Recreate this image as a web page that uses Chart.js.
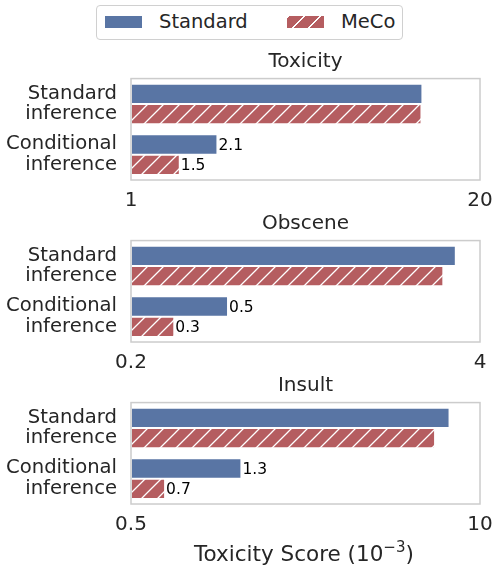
<!DOCTYPE html>
<html>
<head>
<meta charset="utf-8">
<script src="https://cdn.jsdelivr.net/npm/chart.js@4"></script>
<style>
  body { margin: 0; background: #fff; font-family: "DejaVu Sans", sans-serif; color: #262626; }
  #wrap { position: relative; width: 492px; height: 565px; overflow: hidden; }
  .panel { position: absolute; left: 0; }
  #legend { position: absolute; left: 96px; top: 5px; width: 305px; height: 33px; border: 1.5px solid #d0d0d0; border-radius: 4px; box-sizing: content-box; }
  .sw { position: absolute; top: 10px; width: 37px; height: 12px; }
  .lt { position: absolute; top: 3px; font-size: 19.5px; line-height: 26px; }
  #xlabel { position: absolute; top: 541px; left: 0; width: 608px; text-align: center; font-size: 21.5px; line-height: 26px; white-space: nowrap; }
  #xlabel sup { font-size: 15px; vertical-align: 9px; line-height: 0; }
</style>
</head>
<body>
<div id="wrap">
  <div id="legend">
    <div class="sw" style="left:8px;background:#5975a4"></div>
    <div class="lt" style="left:62px">Standard</div>
    <div class="sw" style="left:190px;background:repeating-linear-gradient(-45deg,#b55d60 0 10px,#fff 10px 11.5px)"></div>
    <div class="lt" style="left:244px">MeCo</div>
  </div>
  <canvas id="c0" class="panel" width="492" height="171" style="top:44px"></canvas>
  <canvas id="c1" class="panel" width="492" height="171" style="top:206px"></canvas>
  <canvas id="c2" class="panel" width="492" height="171" style="top:368px"></canvas>
  <div id="xlabel">Toxicity Score (10<sup>−3</sup>)</div>
</div>
<script>
const categories = [['Standard', 'inference'], ['Conditional', 'inference']];
const panelTitles = ['Toxicity', 'Obscene', 'Insult'];
const axisMin = [1, 0.2, 0.5];
const axisMax = [20, 4, 10];
// values per panel: [standard inference, conditional inference]
const standardVals = [[12.2, 2.1], [3.25, 0.46], [7.7, 1.29]];
const mecoVals = [[12.1, 1.52], [2.92, 0.29], [6.8, 0.67]];

const blue = '#5975a4';
const red = '#b55d60';

function hatch(color) {
  const s = 16;
  const c = document.createElement('canvas');
  c.width = s; c.height = s;
  const g = c.getContext('2d');
  g.fillStyle = color;
  g.fillRect(0, 0, s, s);
  g.strokeStyle = '#ffffff';
  g.lineWidth = 1.3;
  g.beginPath();
  g.moveTo(0, s); g.lineTo(s, 0);
  g.moveTo(-s / 2, s / 2); g.lineTo(s / 2, -s / 2);
  g.moveTo(s / 2, s * 1.5); g.lineTo(s * 1.5, s / 2);
  g.stroke();
  return g.createPattern(c, 'repeat');
}

const boxPlugin = {
  id: 'box',
  afterDraw(chart) {
    const a = chart.chartArea, ctx = chart.ctx;
    ctx.save();
    ctx.strokeStyle = '#cccccc';
    ctx.lineWidth = 1.5;
    ctx.strokeRect(a.left, a.top, a.right - a.left, a.bottom - a.top);
    ctx.restore();
  }
};

const valuePlugin = {
  id: 'vals',
  afterDatasetsDraw(chart) {
    const ctx = chart.ctx;
    ctx.save();
    ctx.font = '15.5px "DejaVu Sans"';
    ctx.fillStyle = '#000';
    ctx.textBaseline = 'middle';
    chart.data.datasets.forEach((ds, i) => {
      const bar = chart.getDatasetMeta(i).data[1];
      ctx.fillText(ds.data[1].toFixed(1), bar.x + 1, bar.y + 1);
    });
    ctx.restore();
  }
};

Chart.defaults.font.family = '"DejaVu Sans"';
Chart.defaults.color = '#262626';

for (let p = 0; p < 3; p++) {
  new Chart(document.getElementById('c' + p), {
    type: 'bar',
    data: {
      labels: categories,
      datasets: [
        { label: 'Standard', data: standardVals[p], backgroundColor: blue, borderColor: '#ffffff', borderWidth: 1, borderSkipped: false },
        { label: 'MeCo', data: mecoVals[p], backgroundColor: hatch(red), borderColor: '#ffffff', borderWidth: 1, borderSkipped: false }
      ]
    },
    options: {
      indexAxis: 'y',
      responsive: false,
      animation: false,
      devicePixelRatio: 1,
      layout: { padding: { left: 0, right: 12, top: 0, bottom: 0 } },
      categoryPercentage: 0.8,
      barPercentage: 1.0,
      plugins: {
        legend: { display: false },
        tooltip: { enabled: false },
        title: {
          display: true, text: panelTitles[p], fullSize: false,
          font: { size: 20, weight: 'normal' }, color: '#262626',
          padding: { top: 2, bottom: 5 }
        }
      },
      scales: {
        x: {
          type: 'logarithmic', min: axisMin[p], max: axisMax[p],
          grid: { display: false, drawTicks: false },
          border: { display: false },
          afterBuildTicks: s => { s.ticks = [{ value: s.min }, { value: s.max }]; },
          afterFit: s => { s.height = 35; s.paddingLeft = 0; s.paddingRight = 0; },
          ticks: { font: { size: 20 }, padding: 9, maxRotation: 0, autoSkip: false, callback: v => String(v) }
        },
        y: {
          grid: { display: false, drawTicks: false },
          border: { display: false },
          afterFit: s => { s.width = 131; },
          ticks: { font: { size: 19.6, lineHeight: 1.05 }, padding: 14 }
        }
      }
    },
    plugins: [boxPlugin, valuePlugin]
  });
}
</script>
</body>
</html>
